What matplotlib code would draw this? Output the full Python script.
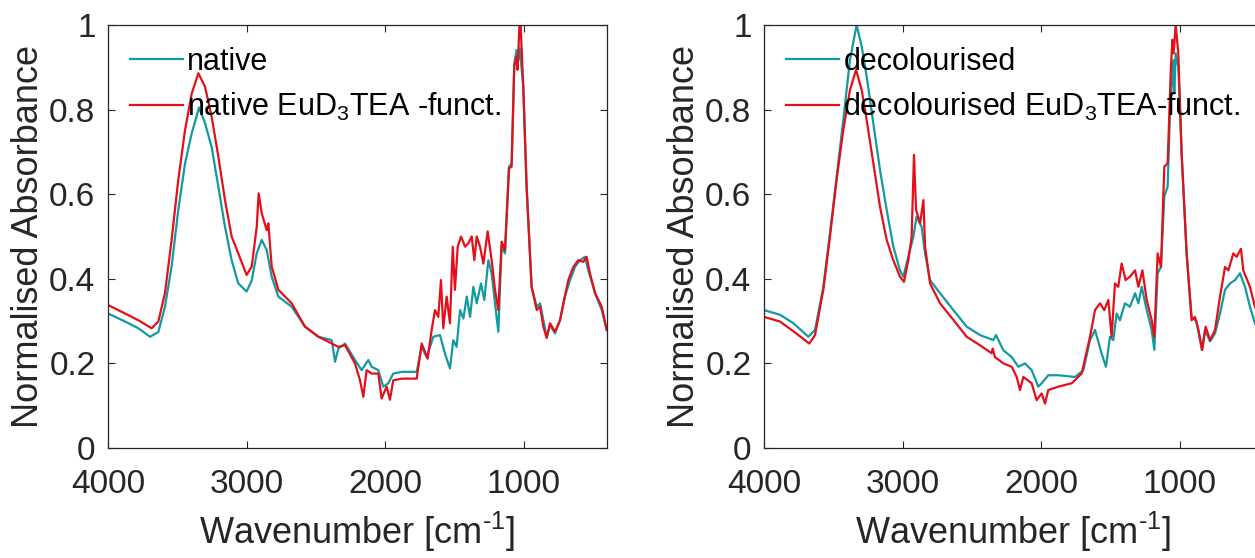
import matplotlib
matplotlib.use("Agg")
import matplotlib.pyplot as plt

plt.rcParams['font.family'] = ['Liberation Sans', 'DejaVu Sans']
plt.rcParams['mathtext.fontset'] = 'custom'
plt.rcParams['mathtext.rm'] = 'Liberation Sans'
plt.rcParams['mathtext.default'] = 'regular'

# ---------------- data ----------------
native_wn = [4000, 3877, 3781, 3697, 3637, 3589, 3541, 3493, 3444, 3396, 3343, 3300, 3252, 3204,
             3156, 3108, 3060, 3000, 2963, 2927, 2891, 2855, 2819, 2771, 2675, 2579, 2482, 2386,
             2362, 2338, 2290, 2218, 2170, 2122, 2098, 2050, 2014, 1978, 1942, 1881, 1773, 1737,
             1701, 1653, 1605, 1569, 1533, 1509, 1485, 1460, 1436, 1412, 1388, 1364, 1340, 1309,
             1285, 1256, 1232, 1208, 1184, 1160, 1136, 1107, 1088, 1069, 1052, 1040, 1030, 1004,
             980, 944, 907, 883, 859, 835, 811, 775, 739, 703, 667, 631, 595, 559, 535, 486, 438, 402]
native_abs = [0.318, 0.299, 0.283, 0.263, 0.274, 0.334, 0.429, 0.563, 0.673, 0.744, 0.805, 0.768, 0.711, 0.618,
              0.523, 0.444, 0.389, 0.370, 0.396, 0.460, 0.492, 0.468, 0.405, 0.358, 0.334, 0.287, 0.263, 0.255,
              0.204, 0.235, 0.247, 0.208, 0.184, 0.208, 0.192, 0.184, 0.145, 0.153, 0.176, 0.180, 0.180, 0.239,
              0.215, 0.263, 0.267, 0.223, 0.188, 0.255, 0.239, 0.326, 0.306, 0.358, 0.310, 0.381, 0.342, 0.389,
              0.350, 0.444, 0.413, 0.342, 0.275, 0.476, 0.460, 0.665, 0.673, 0.909, 0.941, 0.917, 0.945, 0.854,
              0.618, 0.381, 0.334, 0.342, 0.302, 0.263, 0.290, 0.271, 0.302, 0.358, 0.397, 0.428, 0.444, 0.452,
              0.420, 0.366, 0.326, 0.279]

native_eu_wn = [4000, 3877, 3781, 3685, 3637, 3589, 3541, 3493, 3444, 3396, 3348, 3300, 3252, 3204,
                3156, 3108, 3060, 3000, 2963, 2927, 2913, 2891, 2855, 2843, 2819, 2771, 2675, 2579,
                2482, 2386, 2338, 2290, 2218, 2182, 2158, 2134, 2098, 2050, 2026, 1990, 1966, 1942,
                1881, 1773, 1737, 1694, 1665, 1641, 1617, 1598, 1581, 1557, 1533, 1513, 1497, 1477,
                1453, 1424, 1400, 1376, 1357, 1340, 1316, 1292, 1261, 1232, 1208, 1184, 1160, 1136,
                1107, 1088, 1069, 1054, 1045, 1032, 1023, 1004, 980, 944, 907, 883, 859, 835, 811,
                775, 739, 715, 679, 643, 607, 571, 547, 523, 486, 438, 402]
native_eu_abs = [0.338, 0.318, 0.302, 0.283, 0.299, 0.366, 0.492, 0.634, 0.752, 0.838, 0.886, 0.854, 0.783, 0.689,
                 0.586, 0.500, 0.460, 0.409, 0.429, 0.523, 0.602, 0.555, 0.515, 0.531, 0.429, 0.374, 0.342, 0.287,
                 0.263, 0.247, 0.239, 0.243, 0.200, 0.160, 0.121, 0.184, 0.176, 0.176, 0.117, 0.145, 0.114, 0.160,
                 0.164, 0.164, 0.247, 0.211, 0.279, 0.326, 0.310, 0.397, 0.283, 0.358, 0.295, 0.476, 0.374, 0.476,
                 0.500, 0.476, 0.484, 0.500, 0.444, 0.500, 0.476, 0.436, 0.512, 0.444, 0.374, 0.326, 0.488, 0.468,
                 0.661, 0.665, 0.902, 0.925, 0.894, 0.996, 1.000, 0.854, 0.618, 0.381, 0.326, 0.334, 0.287, 0.260, 0.295,
                 0.275, 0.302, 0.342, 0.397, 0.428, 0.444, 0.440, 0.452, 0.413, 0.366, 0.334, 0.279]

decol_wn = [4000, 3885, 3788, 3680, 3632, 3572, 3524, 3476, 3428, 3380, 3332, 3295, 3259, 3211,
            3163, 3115, 3067, 3019, 2995, 2959, 2923, 2899, 2863, 2838, 2802, 2730, 2634, 2538,
            2442, 2345, 2326, 2273, 2213, 2165, 2117, 2069, 2021, 1997, 1949, 1877, 1756, 1696,
            1648, 1612, 1564, 1533, 1504, 1480, 1456, 1432, 1396, 1360, 1323, 1299, 1275, 1239,
            1203, 1184, 1160, 1136, 1112, 1088, 1071, 1047, 1040, 1030, 1011, 987, 951, 915, 879,
            842, 818, 782, 746, 710, 674, 638, 602, 566, 530, 494, 458, 400]
decol_abs = [0.326, 0.315, 0.295, 0.263, 0.279, 0.381, 0.508, 0.642, 0.775, 0.917, 1.000, 0.949, 0.878, 0.767,
             0.657, 0.563, 0.476, 0.420, 0.405, 0.452, 0.499, 0.547, 0.523, 0.460, 0.397, 0.366, 0.326, 0.287,
             0.267, 0.255, 0.267, 0.231, 0.215, 0.192, 0.200, 0.184, 0.145, 0.153, 0.172, 0.172, 0.168, 0.184,
             0.255, 0.279, 0.223, 0.192, 0.263, 0.255, 0.318, 0.302, 0.342, 0.334, 0.366, 0.342, 0.381, 0.326,
             0.279, 0.232, 0.413, 0.428, 0.595, 0.618, 0.791, 0.917, 0.838, 0.933, 0.901, 0.696, 0.460, 0.310, 0.299,
             0.232, 0.279, 0.252, 0.271, 0.318, 0.374, 0.389, 0.397, 0.413, 0.381, 0.334, 0.295, 0.255]

decol_eu_wn = [4000, 3885, 3788, 3673, 3632, 3572, 3524, 3476, 3428, 3380, 3336, 3295, 3259, 3211,
               3163, 3115, 3067, 3019, 2990, 2959, 2935, 2918, 2903, 2874, 2850, 2838, 2802, 2730,
               2634, 2538, 2442, 2358, 2350, 2334, 2273, 2213, 2177, 2153, 2129, 2069, 2033, 1997,
               1973, 1949, 1877, 1780, 1708, 1648, 1612, 1576, 1545, 1516, 1492, 1468, 1444, 1420,
               1391, 1360, 1323, 1299, 1270, 1239, 1203, 1184, 1160, 1136, 1112, 1088, 1066, 1054,
               1045, 1030, 1011, 987, 951, 915, 891, 866, 838, 814, 782, 746, 710, 674, 650, 614,
               590, 559, 542, 494, 458, 400]
decol_eu_abs = [0.310, 0.299, 0.276, 0.247, 0.267, 0.374, 0.500, 0.634, 0.752, 0.846, 0.894, 0.846, 0.775, 0.673,
                0.570, 0.492, 0.444, 0.405, 0.393, 0.444, 0.499, 0.693, 0.563, 0.531, 0.586, 0.476, 0.389, 0.342,
                0.303, 0.263, 0.243, 0.224, 0.235, 0.215, 0.200, 0.192, 0.168, 0.137, 0.168, 0.153, 0.113, 0.129,
                0.105, 0.137, 0.145, 0.153, 0.176, 0.263, 0.326, 0.342, 0.326, 0.350, 0.263, 0.389, 0.381, 0.436,
                0.397, 0.405, 0.420, 0.381, 0.420, 0.350, 0.302, 0.263, 0.460, 0.428, 0.665, 0.673, 0.886, 0.965,
                0.933, 1.000, 0.933, 0.696, 0.460, 0.302, 0.310, 0.279, 0.232, 0.287, 0.255, 0.279, 0.358, 0.428,
                0.420, 0.460, 0.452, 0.471, 0.420, 0.381, 0.334, 0.290]

xticks = [4000, 3000, 2000, 1000]
yticks = [0, 0.2, 0.4, 0.6, 0.8, 1]
ytick_labels = ['0', '0.2', '0.4', '0.6', '0.8', '1']

TEAL = '#139AA0'
RED = '#E3101A'
TXT = '#262626'

panels = [
    (native_wn, native_abs, native_eu_wn, native_eu_abs,
     'native', r'native EuD$_{3}$TEA -funct.'),
    (decol_wn, decol_abs, decol_eu_wn, decol_eu_abs,
     'decolourised', r'decolourised EuD$_{3}$TEA-funct.'),
]

W, H = 1255, 558
fig = plt.figure(figsize=(W / 100, H / 100), dpi=100)
lefts = [108, 764]
for (wa, aa, wb, ab, la, lb), lpx in zip(panels, lefts):
    ax = fig.add_axes([lpx / W, (H - 448) / H, 499 / W, 423 / H])
    ax.plot(wa, aa, color=TEAL, lw=1.6, label=la)
    ax.plot(wb, ab, color=RED, lw=1.6, label=lb)
    ax.set_xlim(4000, 400)
    ax.set_ylim(0, 1)
    ax.set_xticks(xticks)
    ax.set_xticklabels([str(t) for t in xticks])
    ax.set_yticks(yticks)
    ax.set_yticklabels(ytick_labels)
    ax.tick_params(direction='in', top=True, right=True, length=5, width=0.8,
                   colors=TXT, labelsize=24)
    ax.tick_params(axis='x', pad=15)
    ax.tick_params(axis='y', pad=9)
    for s in ax.spines.values():
        s.set_color(TXT)
        s.set_linewidth(0.9)
    ax.set_xlabel(r'Wavenumber [cm$^{\text{-1}}$]', fontsize=26, color=TXT, labelpad=7)
    ax.set_ylabel('Normalised Absorbance', fontsize=26, color=TXT, labelpad=2)
    leg = ax.legend(loc='upper left', bbox_to_anchor=(0.044, 0.948), frameon=False,
                    fontsize=22, handlelength=1.73, handletextpad=0.15,
                    labelspacing=0.46, borderpad=0, borderaxespad=0)
    for t in leg.get_texts():
        t.set_color('black')

fig.savefig('out.png', dpi=100)
